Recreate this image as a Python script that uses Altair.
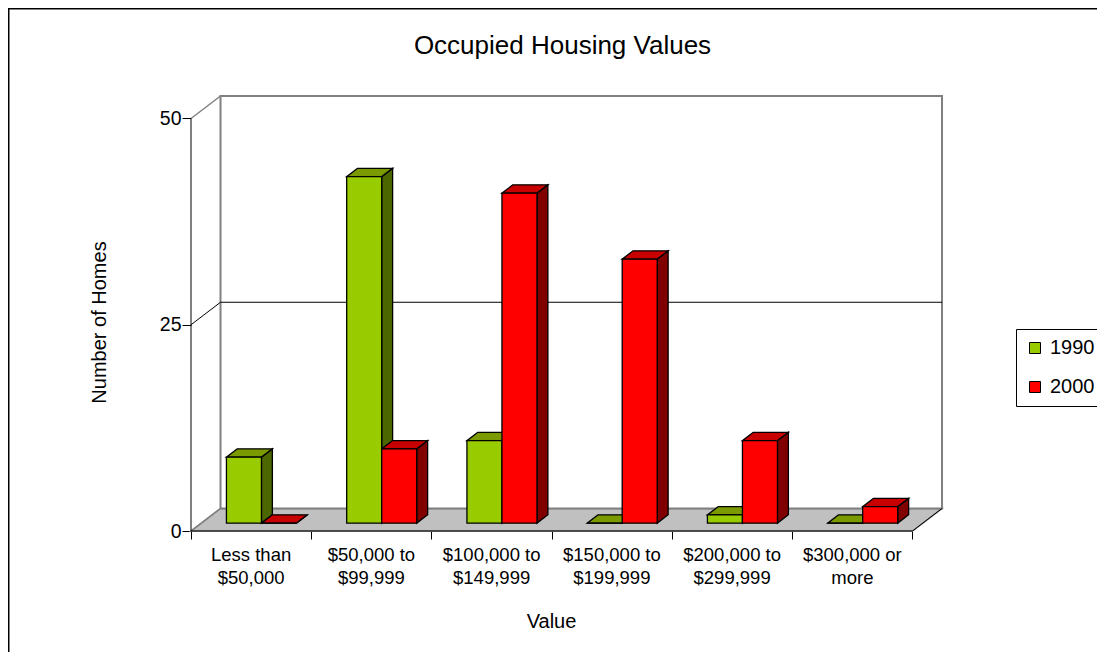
import altair as alt
import pandas as pd

# ---------------- data ----------------
categories = ["Less than\n$50,000", "$50,000 to\n$99,999", "$100,000 to\n$149,999",
              "$150,000 to\n$199,999", "$200,000 to\n$299,999", "$300,000 or\nmore"]
series = ["1990", "2000"]
values_1990 = [8, 42, 10, 0, 1, 0]
values_2000 = [0, 9, 40, 32, 10, 2]
y_ticks = [0, 25, 50]

# ---------------- style / geometry ----------------
FONT = "Liberation Sans"
front_colors = ["#99CC00", "#FF0000"]
top_colors = ["#7A9A00", "#C80000"]
side_colors = ["#4C6600", "#800000"]

PX_X = 120.2          # px per category
PX_Y = 8.25           # px per unit of value
DX = 29.5 / PX_X      # depth offset in x units
DY = 22.5 / PX_Y      # depth offset in y units
BAR_W = 35 / PX_X
D0, D1 = 0.35, 0.72   # depth of bar front / back faces
N = len(categories)
YMAX = y_ticks[-1]

W = round((N + DX) * PX_X)
H = round((YMAX + DY) * PX_Y)
PAD_L, PAD_T = 183, 88
CANVAS_W, CANVAS_H = 1089, 644

xs = alt.Scale(domain=[0, N + DX], nice=False, zero=False)
ys = alt.Scale(domain=[0, YMAX + DY], nice=False, zero=False)

X_AXIS = alt.Axis(
    values=list(range(N + 1)), labels=False, domain=False, grid=False, tickSize=8,
    tickColor="black", tickWidth=1,
    title="Value", titleFontSize=20, titleFont=FONT, titleFontWeight="normal",
    titleColor="black", titleX=360, titleY=96, titleAlign="center",
    titleBaseline="alphabetic")
Y_AXIS = alt.Axis(
    values=y_ticks, domain=False, grid=False, tickSize=9, tickColor="black", tickWidth=1,
    labelFontSize=19.5, labelPadding=1, labelColor="black", labelFont=FONT,
    title="Number of Homes", titleFontSize=20, titleFont=FONT, titleFontWeight="normal",
    titleColor="black", titleX=-86, titleY=226, titleAngle=-90, titleAlign="center",
    titleBaseline="alphabetic")

# ---------------- derived tables ----------------
front_rows, side_rows, top_rows = [], [], []
for s_idx, (name, vals) in enumerate(zip(series, [values_1990, values_2000])):
    for i, v in enumerate(vals):
        xl = i + 0.5 - BAR_W + s_idx * BAR_W
        xr = xl + BAR_W
        bid = f"{name}-{i}"
        front_rows.append(dict(series=name, bar=bid, x=xl + D0 * DX, x2=xr + D0 * DX,
                               y=D0 * DY, y2=v + D0 * DY))
        for d in (D0, D1):
            side_rows.append(dict(series=name, bar=bid, x=xr + d * DX, ylo=d * DY, yhi=v + d * DY))
            top_rows.append(dict(series=name, bar=bid, y=v + d * DY, xlo=xl + d * DX, xhi=xr + d * DX))
front_df = pd.DataFrame(front_rows)
side_df = pd.DataFrame(side_rows)
top_df = pd.DataFrame(top_rows)

floor_df = pd.DataFrame([dict(y=0, xlo=0, xhi=N), dict(y=DY, xlo=DX, xhi=N + DX)])
wall_df = pd.DataFrame([dict(x=DX, x2=N + DX, y=DY, y2=YMAX + DY)])

seg_rows = []
for t in y_ticks:
    edge = t in (y_ticks[0], y_ticks[-1])
    seg_rows.append(dict(x=0, y=t, x2=DX, y2=t + DY, kind="gray" if edge else "black"))
    if not edge:
        seg_rows.append(dict(x=DX, y=t + DY, x2=N + DX, y2=t + DY, kind="black"))
seg_rows.append(dict(x=N, y=0, x2=N + DX, y2=DY, kind="black"))
seg_rows.append(dict(x=0, y=0, x2=N, y2=0, kind="black"))
seg_rows.append(dict(x=0, y=0, x2=0, y2=YMAX, kind="black"))
seg_df = pd.DataFrame(seg_rows)

label_df = pd.DataFrame(dict(cat=categories, xc=[i + 0.5 for i in range(N)], y0=[0] * N))
frame_df = pd.DataFrame(dict(edge=["frame"]))

# ---------------- layers ----------------
floor = alt.Chart(floor_df).mark_area(orient="horizontal", fill="#C0C0C0", stroke="#808080",
                                      strokeWidth=1.5).encode(
    y=alt.Y("y:Q", scale=ys, axis=Y_AXIS),
    x=alt.X("xlo:Q", scale=xs, stack=None, axis=X_AXIS),
    x2="xhi:Q",
)

wall = alt.Chart(wall_df).mark_rect(fill="white", stroke="#808080", strokeWidth=2).encode(
    x=alt.X("x:Q", scale=xs, axis=X_AXIS), x2="x2:Q",
    y=alt.Y("y:Q", scale=ys, axis=Y_AXIS), y2="y2:Q",
)

segs_gray = alt.Chart(seg_df).transform_filter(alt.datum.kind == "gray").mark_rule(
    color="#808080", strokeWidth=1.5).encode(
    x=alt.X("x:Q", scale=xs, axis=X_AXIS), x2="x2:Q",
    y=alt.Y("y:Q", scale=ys, axis=Y_AXIS), y2="y2:Q",
)
segs_black = alt.Chart(seg_df).transform_filter(alt.datum.kind == "black").mark_rule(
    color="black", strokeWidth=1).encode(
    x=alt.X("x:Q", scale=xs, axis=X_AXIS), x2="x2:Q",
    y=alt.Y("y:Q", scale=ys, axis=Y_AXIS), y2="y2:Q",
)

sides = alt.Chart(side_df).mark_area(orient="vertical", stroke="black", strokeWidth=1.3,
                                     opacity=1).encode(
    x=alt.X("x:Q", scale=xs, axis=X_AXIS),
    y=alt.Y("ylo:Q", scale=ys, axis=Y_AXIS, stack=None), y2="yhi:Q",
    detail="bar:N",
    color=alt.Color("series:N", scale=alt.Scale(domain=series, range=side_colors), legend=None),
)

tops = alt.Chart(top_df).mark_area(orient="horizontal", stroke="black", strokeWidth=1.3,
                                   opacity=1).encode(
    y=alt.Y("y:Q", scale=ys, axis=Y_AXIS),
    x=alt.X("xlo:Q", scale=xs, axis=X_AXIS, stack=None), x2="xhi:Q",
    detail="bar:N",
    color=alt.Color("series:N", scale=alt.Scale(domain=series, range=top_colors), legend=None),
)

fronts = alt.Chart(front_df).mark_rect(stroke="black", strokeWidth=1.3).encode(
    x=alt.X("x:Q", scale=xs, axis=X_AXIS), x2="x2:Q",
    y=alt.Y("y:Q", scale=ys, axis=Y_AXIS), y2="y2:Q",
    color=alt.Color("series:N", scale=alt.Scale(domain=series, range=front_colors),
                    legend=alt.Legend(
                        title=None, orient="none", legendX=825, legendY=233,
                        strokeColor="black", fillColor="white", padding=9,
                        symbolType="square", symbolSize=121, symbolStrokeColor="black",
                        symbolStrokeWidth=1, symbolOpacity=1,
                        labelFontSize=20, labelFont=FONT, labelColor="black",
                        labelOffset=5, rowPadding=19, labelLimit=200)),
)

labels = alt.Chart(label_df).mark_text(
    baseline="top", align="center", dy=15, fontSize=18.5, font=FONT, color="black",
    lineBreak="\n", lineHeight=23.3).encode(
    x=alt.X("xc:Q", scale=xs, axis=X_AXIS),
    y=alt.Y("y0:Q", scale=ys, axis=Y_AXIS),
    text="cat:N",
)

# outer chart frame (top and left edges visible in the reference)
frame_left = alt.Chart(frame_df).mark_rule(color="black", strokeWidth=1.5).encode(
    x=alt.value(-PAD_L + 0.75), y=alt.value(-PAD_T), y2=alt.value(CANVAS_H - PAD_T))
frame_top = alt.Chart(frame_df).mark_rule(color="black", strokeWidth=1.5).encode(
    y=alt.value(-PAD_T + 0.75), x=alt.value(-PAD_L), x2=alt.value(CANVAS_W - PAD_L))

chart = alt.layer(floor, wall, segs_gray, segs_black, sides, tops, fronts, labels,
                  frame_left, frame_top).resolve_scale(
    color="independent"
).properties(
    width=W, height=H,
    title=alt.TitleParams("Occupied Housing Values", fontSize=26, font=FONT,
                          fontWeight="normal", color="black", anchor="middle",
                          baseline="alphabetic", offset=15, dx=-4, dy=88),
    autosize=alt.AutoSizeParams(type="none"),
    padding={"left": PAD_L, "top": PAD_T, "right": CANVAS_W - PAD_L - W,
             "bottom": CANVAS_H - PAD_T - H},
).configure(font=FONT).configure_view(stroke=None)

chart.save("out.html", embed_options={"renderer": "svg", "actions": False})
